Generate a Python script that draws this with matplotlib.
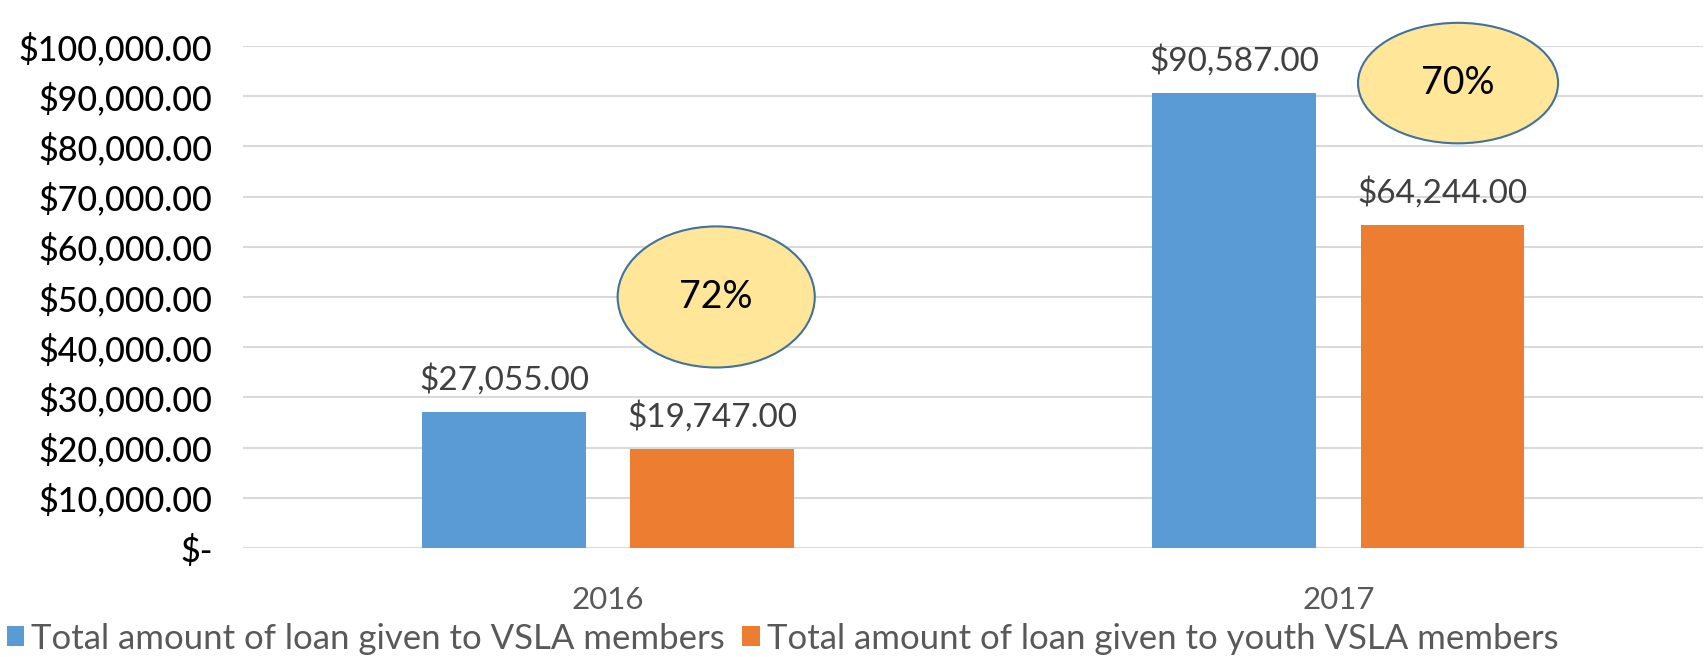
import numpy as np
import matplotlib
matplotlib.use("Agg")
import matplotlib.pyplot as plt
from matplotlib.patches import Ellipse

# data
years = ["2016", "2017"]
allLoans = [27055, 90587]      # total loan to VSLA members
youthLoans = [19747, 64244]    # total loan to youth VSLA members
shareLabels = ["72%", "70%"]
seriesNames = ["Total amount of loan given to VSLA members",
               "Total amount of loan given to youth VSLA members"]

plt.rcParams['font.family'] = ['Lato', 'DejaVu Sans']

fig = plt.figure(figsize=(17.08, 6.57), dpi=100)
ax = fig.add_axes([0.1423, 0.1659, 0.855, 0.7642])

x = np.arange(len(years))
w = 0.224
b1 = ax.bar(x - 0.1425, allLoans, w, color='#5B9BD5', label=seriesNames[0], zorder=3)
b2 = ax.bar(x + 0.1425, youthLoans, w, color='#ED7D31', label=seriesNames[1], zorder=3)

fmt = lambda v: '${:,.2f}'.format(v)
ax.bar_label(b1, labels=[fmt(v) for v in allLoans], padding=12, fontsize=24, color='#404040')
ax.bar_label(b2, labels=[fmt(v) for v in youthLoans], padding=12, fontsize=24, color='#404040')

ax.set_xlim(-0.5, 1.5)
ax.set_ylim(0, 100000)
ticks = np.arange(0, 100001, 10000)
ax.set_yticks(ticks)
ax.set_yticklabels(['$-' if t == 0 else '${:,.2f}'.format(t) for t in ticks],
                   fontsize=24.5, color='black', fontweight='medium')
ax.set_xticks(x)
ax.set_xticklabels(years, fontsize=22.5, color='#595959')
ax.tick_params(axis='both', length=0)
ax.tick_params(axis='y', pad=22)
ax.tick_params(axis='x', pad=27)
ax.grid(axis='y', color='#D9D9D9', linewidth=1.5, zorder=0)
for s in ax.spines.values():
    s.set_visible(False)

# percentage bubbles
bubbles = [(0.148, 50000, 0.27, 28100), (1.164, 92600, 0.274, 24000)]
for (cx, cy, ew, eh), lab in zip(bubbles, shareLabels):
    e = Ellipse((cx, cy), ew, eh, facecolor='#FFE699', edgecolor='#41719C',
                linewidth=1.5, zorder=4, clip_on=False)
    ax.add_patch(e)
    ax.text(cx, cy, lab, ha='center', va='center', fontsize=27, color='black', zorder=5)

fig.legend(loc='lower left', bbox_to_anchor=(0.0, -0.007), ncol=2, frameon=False,
           fontsize=25, labelcolor='#595959', handlelength=0.5, handleheight=0.5,
           handletextpad=0.2, columnspacing=0.5, borderpad=0.2, borderaxespad=0)

fig.savefig('out.png', dpi=100)
